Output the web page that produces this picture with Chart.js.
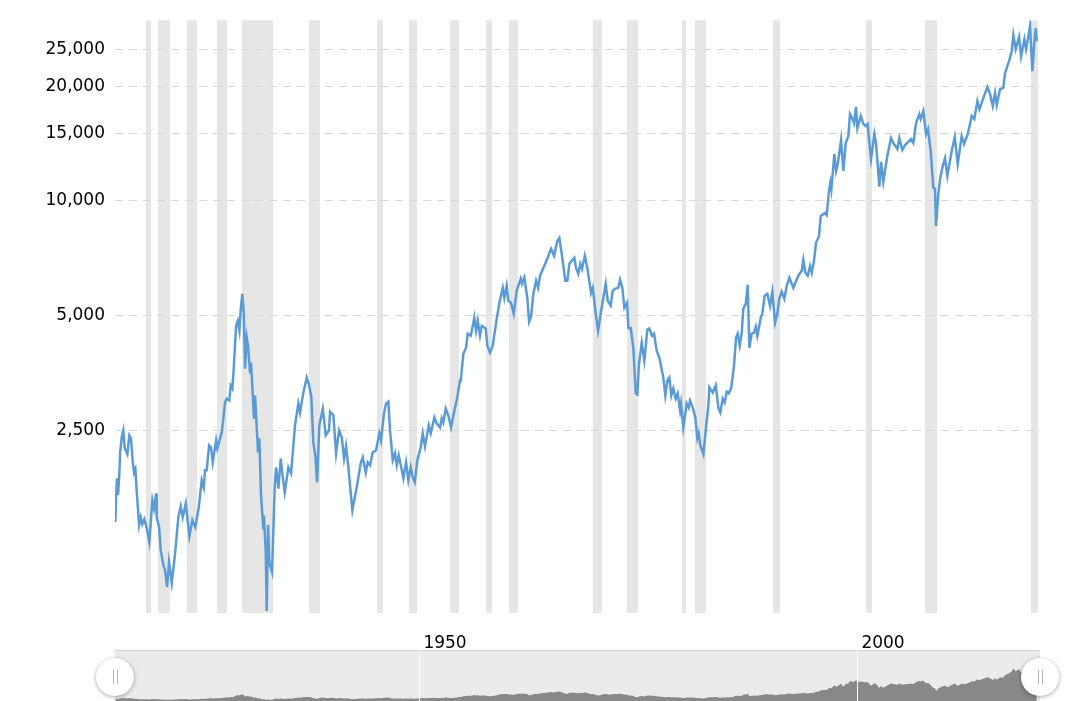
<!DOCTYPE html>
<html>
<head>
<meta charset="utf-8">
<title>Dow Jones - inflation adjusted</title>
<script src="https://cdn.jsdelivr.net/npm/chart.js@4"></script>
<style>
  html, body { margin: 0; padding: 0; background: #fff; overflow: hidden; }
  canvas { position: absolute; left: 0; }
  #mainChart { top: 0; }
  #navChart { top: 650px; }
</style>
</head>
<body>
<canvas id="mainChart" width="1067" height="650"></canvas>
<canvas id="navChart" width="1067" height="51"></canvas>
<script>
"use strict"

const years = [
  1915.33,1915.41,1915.52,1915.64,1915.79,1915.87,1916.06,1916.24,1916.4,1916.7,1916.93,1917.12,1917.32,1917.47,1917.61,1917.84,
  1918.04,1918.23,1918.41,1918.64,1918.92,1919.21,1919.56,1919.75,1919.98,1920.05,1920.32,1920.51,1920.81,1921,1921.23,1921.46,
  1921.77,1922.15,1922.52,1922.79,1923.02,1923.37,1923.78,1924.12,1924.46,1924.85,1925.19,1925.42,1925.57,1925.76,1926.03,1926.25,
  1926.45,1926.83,1926.97,1927.48,1927.66,1927.85,1928.05,1928.34,1928.5,1928.69,1928.85,1929.11,1929.3,1929.49,1929.65,1929.83,
  1929.99,1930.14,1930.33,1930.48,1930.71,1930.82,1931.16,1931.28,1931.62,1931.77,1931.96,1932.22,1932.28,1932.5,1932.61,1932.76,
  1932.91,1933.22,1933.53,1933.68,1933.94,1934.21,1934.39,1934.67,1935.08,1935.39,1935.84,1936.22,1936.41,1936.79,1937.18,1937.44,
  1937.7,1937.93,1938.16,1938.36,1938.62,1939.01,1939.35,1939.72,1939.84,1940.22,1940.53,1940.87,1941.18,1941.44,1941.67,1941.93,
  1942.39,1942.96,1943.34,1943.57,1943.92,1944.14,1944.41,1944.71,1945.09,1945.47,1945.66,1946,1946.23,1946.5,1946.69,1947,
  1947.26,1947.46,1947.68,1947.95,1948.21,1948.52,1948.78,1949.05,1949.28,1949.51,1949.81,1950.19,1950.42,1950.68,1951.11,1951.34,
  1951.75,1952.02,1952.4,1952.59,1952.77,1953.05,1953.34,1953.65,1954.03,1954.3,1954.68,1954.79,1955.06,1955.37,1955.56,1955.9,
  1956.13,1956.31,1956.51,1956.7,1956.96,1957.16,1957.61,1957.8,1958.11,1958.41,1958.87,1959.17,1959.56,1959.74,1960.01,1960.19,
  1960.5,1960.81,1961.15,1961.61,1961.76,1962.02,1962.36,1962.56,1962.79,1963.05,1963.36,1963.59,1963.81,1964.19,1964.69,1964.88,
  1965.07,1965.41,1965.79,1966.02,1966.29,1966.7,1966.93,1967.16,1967.43,1967.73,1967.92,1968.18,1968.41,1968.61,1968.92,1969.21,
  1969.64,1969.83,1970.13,1970.44,1970.74,1971.04,1971.31,1971.54,1971.88,1972.11,1972.37,1972.75,1972.95,1973.21,1973.44,1973.75,
  1973.9,1974.17,1974.47,1974.74,1974.92,1975.11,1975.42,1975.72,1976.06,1976.29,1976.6,1976.83,1977.13,1977.43,1977.89,1978.12,
  1978.35,1978.57,1978.8,1979.03,1979.3,1979.53,1979.8,1979.91,1980.17,1980.56,1980.79,1980.94,1981.25,1981.54,1981.77,1981.93,
  1982.11,1982.46,1982.76,1983.03,1983.14,1983.53,1983.87,1984.17,1984.4,1984.67,1984.9,1985.13,1985.36,1985.65,1985.96,1986.19,
  1986.38,1986.61,1986.84,1987.02,1987.3,1987.52,1987.71,1987.98,1988.24,1988.44,1988.62,1989.01,1989.19,1989.46,1989.76,1990.07,
  1990.33,1990.64,1990.9,1991.13,1991.4,1991.7,1991.98,1992.27,1992.73,1993.3,1993.69,1993.87,1994.1,1994.37,1994.64,1994.83,
  1995.09,1995.32,1995.66,1995.86,1996.35,1996.54,1996.8,1996.95,1997.07,1997.41,1997.61,1997.8,1998.18,1998.44,1998.71,1999.01,
  1999.2,1999.46,1999.66,1999.89,2000.04,2000.43,2000.73,2001,2001.22,2001.37,2001.6,2001.98,2002.17,2002.55,2002.74,2003,
  2003.46,2003.88,2004.15,2004.61,2004.83,2005.17,2005.48,2006.17,2006.43,2006.74,2007.11,2007.27,2007.57,2007.88,2008.1,2008.41,
  2008.71,2008.9,2009.02,2009.28,2009.48,2009.79,2010.05,2010.31,2010.81,2011.16,2011.5,2011.95,2012.22,2012.64,2013.1,2013.39,
  2013.74,2013.97,2014.42,2014.88,2015.19,2015.5,2015.76,2015.95,2016.33,2016.7,2016.9,2017.35,2017.66,2017.85,2018.12,2018.5,
  2018.73,2019.11,2019.3,2019.57,2019.75,2019.87,2020.02,2020.25,2020.4,2020.52
];

const dowValues = [
  1437,1670,1873,1690,1940,2178,2398,2500,2244,2165,2427,2383,2062,1940,1977,1640,
  1411,1480,1420,1462,1385,1273,1640,1562,1710,1480,1394,1213,1108,1076,970,1128,
  995,1190,1480,1580,1480,1610,1320,1454,1394,1570,1850,1770,1965,1965,2285,2258,
  2062,2354,2244,2470,2688,2960,3030,2995,3280,3220,3655,4700,4850,4566,5215,5705,
  5090,3630,4375,4170,3525,3765,2685,3085,2190,2383,1690,1385,1498,1198,840,1411,
  1128,1063,1795,2000,1760,2110,1930,1720,2000,1930,2577,2940,2785,3140,3440,3290,
  3065,2325,2150,1830,2577,2850,2427,2500,2800,2740,2178,2500,2398,2110,2270,2000,
  1544,1815,2050,2125,1940,2062,2025,2190,2217,2455,2354,2770,2940,2975,2500,2087,
  2178,2025,2150,2012,1873,2062,1850,2000,1885,1830,2087,2258,2455,2270,2577,2455,
  2705,2605,2545,2688,2622,2850,2740,2545,2820,2995,3379,3440,3970,4120,4485,4430,
  4700,4940,4566,4850,4430,4700,4630,4170,4000,4170,4910,5405,5915,5570,5990,5471,
  5405,5060,5811,6250,6060,6290,5570,4820,4970,5705,6172,5915,6365,6670,7090,7300,
  7485,7175,7853,8000,7260,6172,6172,6840,6962,7090,6670,6440,6840,6630,7175,6670,
  5740,5915,5151,4566,5060,5570,6060,5471,5310,5811,5880,5915,6210,5915,5245,5405,
  4640,4640,4100,3125,3105,3745,4250,3811,4595,4625,4430,4485,4048,3880,3440,3085,
  3379,3440,3085,3220,3030,3125,2820,2940,2545,2940,2870,2995,2870,2705,2383,2455,
  2285,2165,2545,2905,3240,3140,3280,2870,2785,3030,2960,3160,3125,3240,3700,4375,
  4485,4170,4510,5215,5370,6020,4120,4485,4510,4675,4430,4940,5060,5640,5705,5310,
  5775,4790,5060,5535,5775,5535,5990,6290,5915,6365,6555,7000,6480,6365,6750,6480,
  6962,7760,8080,9130,9300,9180,10621,11150,10690,13270,11981,12500,14440,11981,14180,14780,
  16890,16480,15990,17630,15510,16690,15900,15710,15900,14520,12880,14970,14180,10890,12650,11210,
  13110,14610,14180,13680,14610,13600,14010,14520,14180,15990,16890,16390,17197,14970,15430,13515,
  10820,10760,8600,10420,11420,12350,12950,11630,13515,14700,12500,14780,14100,14970,16690,16390,
  18265,17380,18600,19880,19050,17720,19180,17840,19640,19770,21620,23243,24686,27210,25000,26900,
  23950,26550,25000,27050,28780,25430,21884,26219,28400,26219
];

const recessionStarts = [1918.83,1920.2,1923.51,1926.94,1929.79,1937.44,1945.2,1948.86,1953.54,1957.65,1960.27,1969.86,1973.75,1980.02,1981.51,1990.41,2001.03,2007.76,2019.87];
const recessionEnds = [1919.41,1921.57,1924.66,1928.08,1933.33,1938.7,1945.89,1949.77,1954.57,1958.33,1961.3,1970.89,1975,1980.48,1982.76,1991.21,2001.72,2009.13,2020.66];

const yTicks = [2500, 5000, 10000, 15000, 20000, 25000];
const xTicks = [1950, 2000];

const points = years.map((year, i) => ({ x: year, y: dowValues[i] }));
const font = { family: '"DejaVu Sans", Verdana, sans-serif', size: 17 };

const recessionBands = {
  id: 'recessionBands',
  beforeDraw(chart) {
    const { ctx, chartArea, scales } = chart;
    ctx.save();
    ctx.fillStyle = '#e6e6e6';
    recessionStarts.forEach((start, i) => {
      const left = scales.x.getPixelForValue(start);
      const right = scales.x.getPixelForValue(recessionEnds[i]);
      ctx.fillRect(left, chartArea.top, right - left, chartArea.height);
    });
    ctx.restore();
  }
};

const navigatorBack = {
  id: 'navigatorBack',
  beforeDraw(chart) {
    const { ctx, chartArea } = chart;
    ctx.save();
    ctx.fillStyle = '#ebebeb';
    ctx.fillRect(chartArea.left, chartArea.top, chartArea.width, chartArea.height);
    ctx.fillStyle = '#d2d2d2';
    ctx.fillRect(chartArea.left, chartArea.top - 1, chartArea.width, 1);
    ctx.restore();
  },
  afterDraw(chart) {
    const { ctx, chartArea } = chart;
    [chartArea.left, chartArea.right].forEach(x => {
      ctx.save();
      ctx.shadowColor = 'rgba(0,0,0,0.35)';
      ctx.shadowBlur = 4;
      ctx.shadowOffsetY = 1;
      ctx.fillStyle = '#fff';
      ctx.beginPath();
      ctx.arc(x, 27, 19, 0, Math.PI * 2);
      ctx.fill();
      ctx.restore();
      ctx.fillStyle = '#b5b5b5';
      ctx.fillRect(x - 2, 20, 1, 14);
      ctx.fillRect(x + 2, 20, 1, 14);
    });
  }
};

function drawMainChart() {
  new Chart(document.getElementById('mainChart'), {
    type: 'line',
    data: {
      datasets: [{
        data: points,
        borderColor: '#5b9bd5',
        borderWidth: 2.5,
        pointRadius: 0,
        tension: 0
      }]
    },
    options: {
      responsive: false,
      animation: false,
      parsing: false,
      layout: { padding: { top: 19, right: 27 } },
      plugins: { legend: { display: false }, tooltip: { enabled: false } },
      scales: {
        x: {
          type: 'linear',
          min: 1915.29,
          max: 2020.89,
          afterBuildTicks: scale => { scale.ticks = xTicks.map(value => ({ value })); },
          afterFit: scale => { scale.height = 37; },
          grid: { display: false },
          border: { display: false },
          ticks: {
            autoSkip: false,
            maxRotation: 0,
            labelOffset: 26,
            padding: 12,
            color: '#000',
            font,
            callback: value => String(value)
          }
        },
        y: {
          type: 'logarithmic',
          min: 830,
          max: 29775,
          afterBuildTicks: scale => { scale.ticks = yTicks.map(value => ({ value })); },
          afterFit: scale => { scale.width = 115; },
          grid: { color: '#d8d8d8', lineWidth: 1, drawTicks: false },
          border: { display: false, dash: [8, 6] },
          ticks: {
            autoSkip: false,
            padding: 10,
            color: '#000',
            font,
            callback: value => value.toLocaleString('en-US')
          }
        }
      }
    },
    plugins: [recessionBands]
  });
}

function drawNavigator() {
  new Chart(document.getElementById('navChart'), {
    type: 'line',
    data: {
      datasets: [{
        data: points,
        borderWidth: 0,
        backgroundColor: '#888888',
        fill: 'origin',
        pointRadius: 0,
        tension: 0
      }]
    },
    options: {
      responsive: false,
      animation: false,
      parsing: false,
      layout: { padding: { top: 1, right: 27 } },
      plugins: { legend: { display: false }, tooltip: { enabled: false } },
      scales: {
        x: {
          type: 'linear',
          min: 1915.29,
          max: 2020.89,
          afterBuildTicks: scale => { scale.ticks = xTicks.map(value => ({ value })); },
          afterFit: scale => { scale.height = 0; },
          grid: { color: '#fff', lineWidth: 1, drawTicks: false, z: 1 },
          border: { display: false },
          ticks: {
            autoSkip: false,
            maxRotation: 0,
            labelOffset: 26,
            padding: -24,
            z: 1,
            color: 'rgba(255,255,255,0.9)',
            font,
            callback: value => String(value)
          }
        },
        y: {
          min: 0,
          max: 42000,
          display: false,
          afterFit: scale => { scale.width = 115; }
        }
      }
    },
    plugins: [navigatorBack]
  });
}

document.addEventListener("DOMContentLoaded", () => {
  drawMainChart();
  drawNavigator();
});
</script>
</body>
</html>
